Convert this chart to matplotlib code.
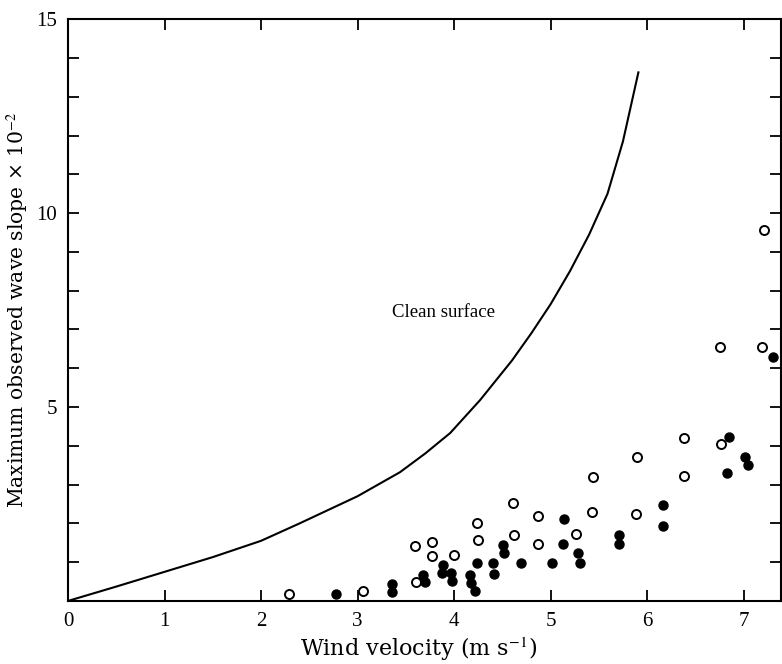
import matplotlib.pyplot as plt
import numpy as np

plt.rcParams['font.family'] = ['Liberation Serif', 'DejaVu Serif']
plt.rcParams['mathtext.fontset'] = 'stix'

# "Clean surface" curve
curve_x = [0, 0.5, 1.0, 1.5, 2.0, 2.4, 3.0, 3.44, 3.7, 3.96, 4.27, 4.6, 4.8, 5.0, 5.2, 5.4, 5.59, 5.75, 5.91]
curve_y = [0, 0.37, 0.75, 1.13, 1.55, 2.0, 2.7, 3.32, 3.8, 4.33, 5.18, 6.2, 6.9, 7.65, 8.5, 9.45, 10.5, 11.85, 13.63]

# open circles
open_x = [2.29, 3.06, 3.60, 3.61, 3.77, 3.77, 4.00, 4.24, 4.25, 4.61, 4.62, 4.87, 4.87,
          5.26, 5.44, 5.43, 5.90, 5.89, 6.38, 6.38, 6.77, 6.76, 7.19, 7.21]
open_y = [0.18, 0.26, 1.42, 0.49, 1.52, 1.16, 1.19, 2.01, 1.57, 2.53, 1.70, 2.19, 1.47,
          1.73, 3.19, 2.29, 3.71, 2.24, 4.20, 3.22, 4.05, 6.55, 6.55, 9.56]

# filled circles
fill_x = [2.78, 3.36, 3.36, 3.68, 3.70, 3.89, 3.87, 3.97, 3.98, 4.17, 4.18, 4.22, 4.24,
          4.40, 4.41, 4.51, 4.52, 4.69, 5.01, 5.14, 5.13, 5.28, 5.30, 5.71, 5.71,
          6.16, 6.16, 6.85, 6.83, 7.01, 7.05, 7.30]
fill_y = [0.18, 0.43, 0.22, 0.67, 0.49, 0.93, 0.72, 0.72, 0.52, 0.67, 0.46, 0.26, 0.98,
          0.98, 0.70, 1.44, 1.24, 0.98, 0.98, 2.11, 1.47, 1.24, 0.98, 1.70, 1.47,
          2.47, 1.93, 4.23, 3.30, 3.71, 3.51, 6.29]

fig = plt.figure(figsize=(7.82, 6.64), dpi=100)
ax = fig.add_axes([0.087, 0.095, 0.912, 0.876])

ax.plot(curve_x, curve_y, color='black', linewidth=1.5)
ax.plot(open_x, open_y, 'o', markersize=6.5, markerfacecolor='white',
        markeredgecolor='black', markeredgewidth=1.4, linestyle='none')
ax.plot(fill_x, fill_y, 'o', markersize=6.5, color='black', linestyle='none')

ax.text(3.36, 7.45, 'Clean surface', fontsize=13.5, ha='left', va='center')

ax.set_xlim(0, 7.39)
ax.set_ylim(0, 15)
ax.set_xticks(range(0, 8))
ax.set_yticks(range(0, 16))
ax.set_yticklabels(['' if (v % 5 or v == 0) else str(v) for v in range(16)])

ax.tick_params(direction='in', length=8, width=1.3, top=True, right=True,
               labelsize=15, pad=8)
for s in ax.spines.values():
    s.set_linewidth(1.5)

ax.set_xlabel('Wind velocity (m s$^{-1}$)', fontsize=16, family='DejaVu Serif')
ax.set_ylabel('Maximum observed wave slope × 10$^{-2}$', fontsize=14.6, family='DejaVu Serif')
ax.xaxis.set_label_coords(0.491, -0.060)
ax.yaxis.set_label_coords(-0.052, 0.5)

fig.savefig('out.png', dpi=100)
